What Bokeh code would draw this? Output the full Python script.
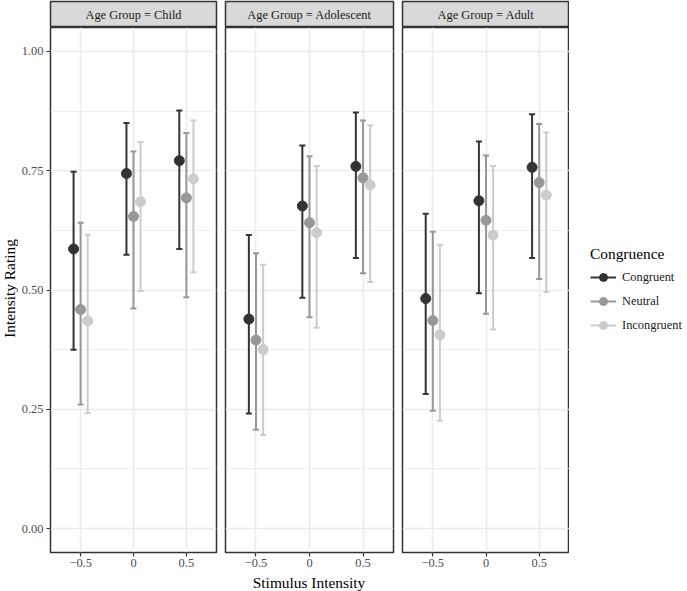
from bokeh.plotting import figure
from bokeh.layouts import row, column
from bokeh.models import (ColumnDataSource, Range1d, FixedTicker, Label,
                          Legend, LegendItem)
from bokeh.transform import dodge
from bokeh.embed import file_html
from bokeh.resources import INLINE
from math import pi

# ---------------- data ----------------
AGE_GROUPS = ["Child", "Adolescent", "Adult"]
CONGRUENCE = ["Congruent", "Neutral", "Incongruent"]
INTENSITY = [-0.5, 0.0, 0.5]
X_TICK_LABELS = ["\u22120.5", "0", "0.5"]
Y_TICKS = [0.0, 0.25, 0.5, 0.75, 1.0]
Y_MINOR = [0.125, 0.375, 0.625, 0.875]
Y_TICK_LABELS = ["0.00", "0.25", "0.50", "0.75", "1.00"]

# rows: Congruent, Neutral, Incongruent ; columns: intensity -0.5, 0, 0.5
child_mean = [[0.586, 0.744, 0.771], [0.459, 0.654, 0.693], [0.435, 0.685, 0.733]]
child_lower = [[0.375, 0.574, 0.586], [0.260, 0.461, 0.485], [0.242, 0.498, 0.537]]
child_upper = [[0.748, 0.850, 0.876], [0.641, 0.790, 0.829], [0.616, 0.810, 0.855]]

adolescent_mean = [[0.439, 0.676, 0.759], [0.395, 0.641, 0.735], [0.375, 0.620, 0.720]]
adolescent_lower = [[0.241, 0.484, 0.567], [0.207, 0.443, 0.535], [0.196, 0.421, 0.517]]
adolescent_upper = [[0.615, 0.803, 0.872], [0.577, 0.780, 0.855], [0.553, 0.760, 0.845]]

adult_mean = [[0.482, 0.687, 0.757], [0.436, 0.646, 0.725], [0.406, 0.615, 0.699]]
adult_lower = [[0.282, 0.493, 0.567], [0.247, 0.450, 0.523], [0.226, 0.417, 0.496]]
adult_upper = [[0.660, 0.811, 0.868], [0.622, 0.782, 0.848], [0.595, 0.760, 0.830]]

MEANS = [child_mean, adolescent_mean, adult_mean]
LOWERS = [child_lower, adolescent_lower, adult_lower]
UPPERS = [child_upper, adolescent_upper, adult_upper]

# ---------------- style ----------------
FONT = "Liberation Serif"
COLORS = ["#333333", "#989898", "#cccccc"]
DODGE = [-0.0667, 0.0, 0.0667]
GRID = "#ebebeb"
DARK = "#333333"
TICK_COL = "#4d4d4d"
SMALL = "12.4px"
BASE = "15.4px"

FRAME_W = [168, 168, 167]
LEFT = [30, 5, 5]
RIGHT = [4, 4, 0]
STRIP_H = 27
PANEL_H = 546
XTITLE_H = 18
YTITLE_W = 18
LEGEND_W = 118


def make_strip(i):
    w = LEFT[i] + FRAME_W[i] + RIGHT[i]
    s = figure(width=w, height=STRIP_H, x_range=Range1d(0, 1), y_range=Range1d(0, 1),
               min_border_left=LEFT[i], min_border_right=RIGHT[i],
               min_border_top=1, min_border_bottom=0,
               x_axis_type=None, y_axis_type=None,
               toolbar_location=None, output_backend="svg")
    s.background_fill_color = "#d9d9d9"
    s.outline_line_color = DARK
    s.outline_line_width = 1.5
    s.add_layout(Label(x=0.5, y=0.5, text="Age Group = " + AGE_GROUPS[i],
                       text_align="center", text_baseline="middle",
                       text_font=FONT, text_font_size=SMALL, text_color="#1a1a1a"))
    return s


def make_panel(i, sources):
    w = LEFT[i] + FRAME_W[i] + RIGHT[i]
    p = figure(width=w, height=PANEL_H,
               x_range=Range1d(-0.785, 0.785), y_range=Range1d(-0.05, 1.05),
               min_border_left=LEFT[i], min_border_right=RIGHT[i],
               min_border_top=0, min_border_bottom=21,
               toolbar_location=None, output_backend="svg")
    p.outline_line_color = DARK
    p.outline_line_width = 1.5
    p.background_fill_color = "white"

    p.xaxis.ticker = FixedTicker(ticks=INTENSITY, minor_ticks=[])
    p.xaxis.major_label_overrides = dict(zip(INTENSITY, X_TICK_LABELS))
    p.yaxis.ticker = FixedTicker(ticks=Y_TICKS, minor_ticks=Y_MINOR)
    p.yaxis.major_label_overrides = dict(zip(Y_TICKS, Y_TICK_LABELS))
    for ax in (p.xaxis, p.yaxis):
        ax.axis_line_color = None
        ax.major_tick_line_color = DARK
        ax.major_tick_line_width = 1.2
        ax.major_tick_out = 4
        ax.major_tick_in = 0
        ax.minor_tick_line_color = None
        ax.major_label_text_font = FONT
        ax.major_label_text_font_size = SMALL
        ax.major_label_text_color = TICK_COL
        ax.major_label_standoff = 2
    p.yaxis.major_label_standoff = 3
    if i > 0:
        p.yaxis.visible = False

    p.xgrid.ticker = FixedTicker(ticks=INTENSITY, minor_ticks=[])
    p.ygrid.ticker = FixedTicker(ticks=Y_TICKS, minor_ticks=Y_MINOR)
    p.xgrid.grid_line_color = GRID
    p.ygrid.grid_line_color = GRID
    p.xgrid.grid_line_width = 1.6
    p.ygrid.grid_line_width = 1.6
    p.ygrid.minor_grid_line_color = GRID
    p.ygrid.minor_grid_line_width = 0.8

    for g in range(3):
        xs = dodge("x", DODGE[g], range=p.x_range)
        p.segment(x0=xs, y0="lo", x1=xs, y1="hi", source=sources[g],
                  line_color=COLORS[g], line_width=2)
        p.scatter(x=xs, y="lo", source=sources[g], marker="dash", size=6,
                  line_color=COLORS[g], line_width=2)
        p.scatter(x=xs, y="hi", source=sources[g], marker="dash", size=6,
                  line_color=COLORS[g], line_width=2)
    for g in range(3):
        xs = dodge("x", DODGE[g], range=p.x_range)
        p.scatter(x=xs, y="mean", source=sources[g], marker="circle", size=10,
                  fill_color=COLORS[g], line_color=COLORS[g])
    return p


all_sources = [[ColumnDataSource(dict(x=INTENSITY, mean=MEANS[i][g],
                                      lo=LOWERS[i][g], hi=UPPERS[i][g]))
                for g in range(3)] for i in range(3)]

strips = [make_strip(i) for i in range(3)]
panels = [make_panel(i, all_sources[i]) for i in range(3)]

panels_w = sum(LEFT[i] + FRAME_W[i] + RIGHT[i] for i in range(3))
xfig = figure(width=panels_w, height=XTITLE_H, x_range=Range1d(0, panels_w),
              y_range=Range1d(0, XTITLE_H), min_border=0,
              x_axis_type=None, y_axis_type=None,
              toolbar_location=None, output_backend="svg")
xfig.outline_line_color = None
xfig.add_layout(Label(x=308.5 - YTITLE_W, y=XTITLE_H / 2, text="Stimulus Intensity",
                      text_align="center", text_baseline="middle",
                      text_font=FONT, text_font_size=BASE, text_color="#000000"))

full_h = STRIP_H + PANEL_H + XTITLE_H
yfig = figure(width=YTITLE_W, height=full_h, x_range=Range1d(0, YTITLE_W),
              y_range=Range1d(0, full_h), min_border=0,
              x_axis_type=None, y_axis_type=None,
              toolbar_location=None, output_backend="svg")
yfig.outline_line_color = None
yfig.add_layout(Label(x=9, y=full_h - 288, text="Intensity Rating", angle=pi / 2,
                      text_align="center", text_baseline="middle",
                      text_font=FONT, text_font_size=BASE, text_color="#000000"))

# legend figure: key glyphs share the last panel's data sources (hidden renderers)
lfig = figure(width=LEGEND_W, height=full_h, x_range=Range1d(0, 1),
              y_range=Range1d(0, 1), min_border=0,
              x_axis_type=None, y_axis_type=None,
              toolbar_location=None, output_backend="svg")
lfig.outline_line_color = None
items = []
for g in range(3):
    src = all_sources[2][g]
    rs = lfig.segment(x0="x", y0="lo", x1="x", y1="hi", source=src,
                      line_color=COLORS[g], line_width=2, visible=False)
    rp = lfig.scatter(x="x", y="mean", source=src, marker="circle", size=10,
                      fill_color=COLORS[g], line_color=COLORS[g], visible=False)
    items.append(LegendItem(label=CONGRUENCE[g], renderers=[rs, rp]))
leg = Legend(items=items, title="Congruence", location=(21, 256))
leg.click_policy = "none"
leg.inactive_fill_alpha = 0
leg.title_text_font = FONT
leg.title_text_font_size = BASE
leg.title_text_font_style = "normal"
leg.title_text_color = "#000000"
leg.title_standoff = 4
leg.label_text_font = FONT
leg.label_text_font_size = SMALL
leg.label_text_color = "#1a1a1a"
leg.glyph_width = 26
leg.glyph_height = 20
leg.label_standoff = 6
leg.spacing = 4
leg.padding = 3
leg.margin = 0
leg.border_line_color = None
leg.background_fill_alpha = 0
lfig.add_layout(leg)

panel_row = row(*[column(strips[i], panels[i], spacing=0) for i in range(3)], spacing=0)
layout = row(yfig, column(panel_row, xfig, spacing=0), lfig, spacing=0)

open("out.html", "w").write(file_html(layout, INLINE))
